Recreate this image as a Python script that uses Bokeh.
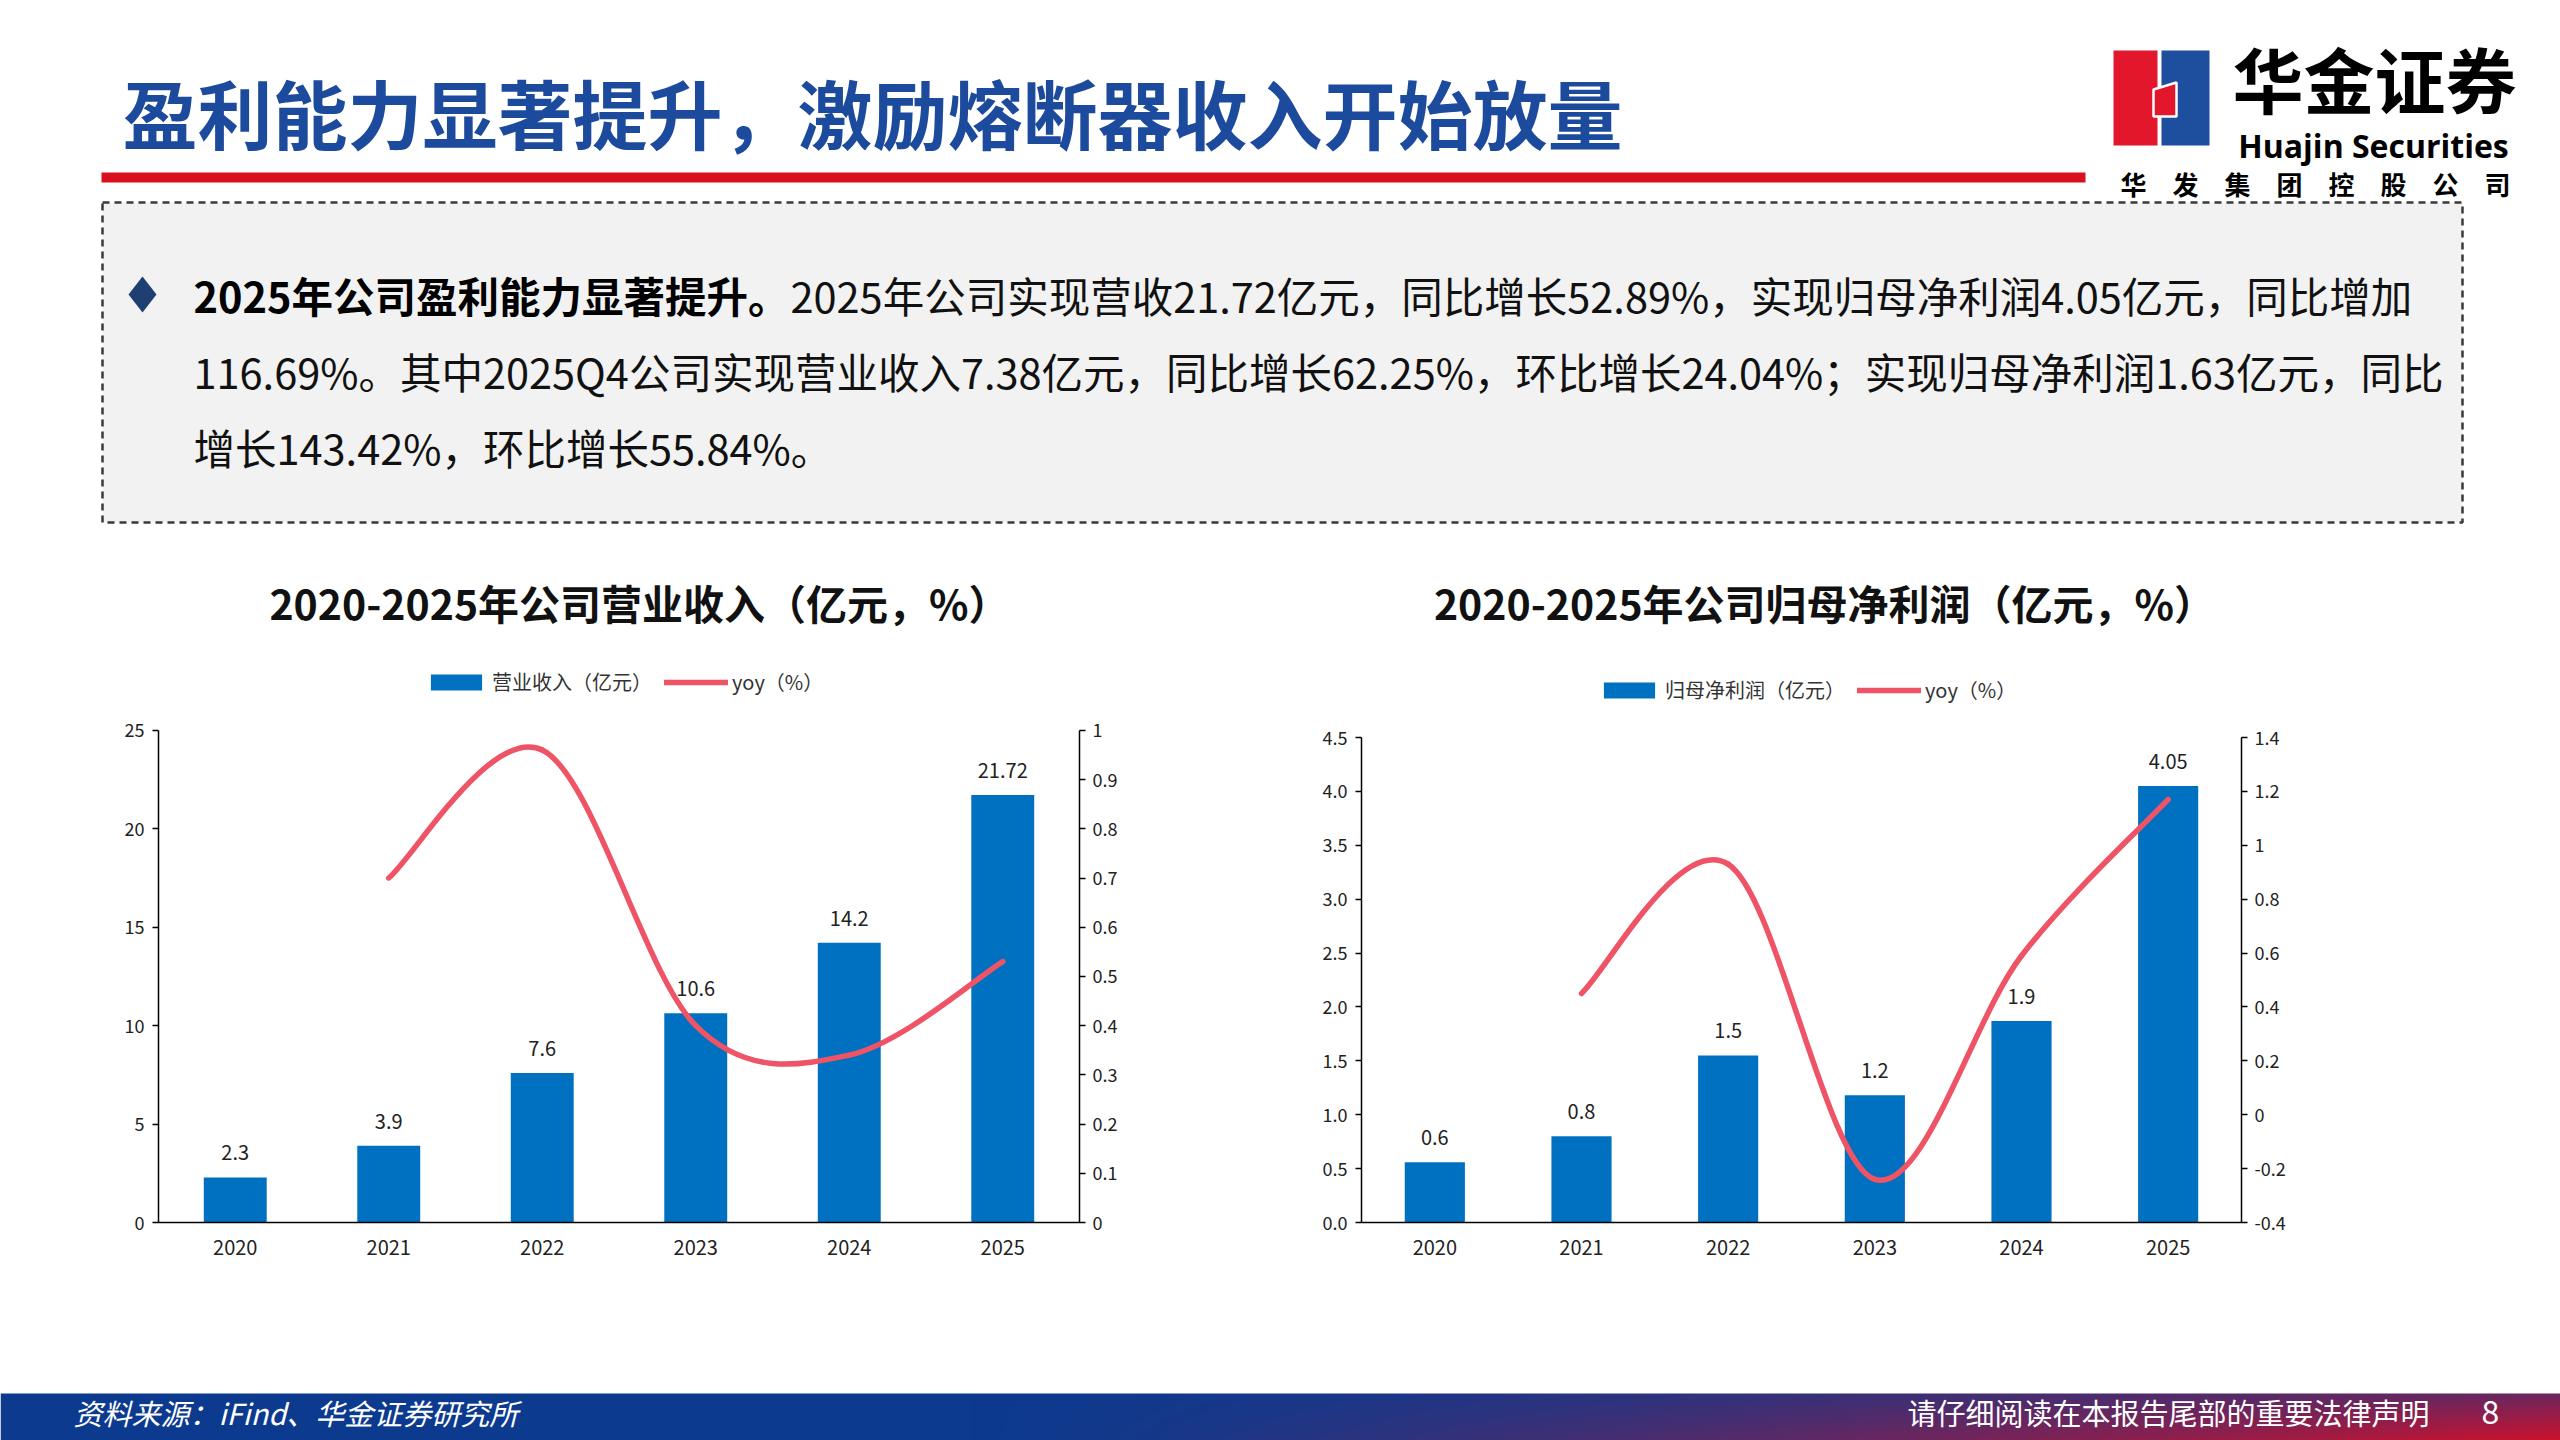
import numpy as np
from bokeh.plotting import figure
from bokeh.models import (Range1d, LinearAxis, FixedTicker, NumeralTickFormatter,
                          Legend, LegendItem, ColumnDataSource, LabelSet)
from bokeh.layouts import column, row
from bokeh.embed import file_html
from bokeh.resources import INLINE
from bokeh.core.properties import value

CJK = "Noto Sans CJK SC"

# ---------------- data ----------------
years = ["2020", "2021", "2022", "2023", "2024", "2025"]
revenue = [2.29, 3.90, 7.59, 10.63, 14.21, 21.72]
revenue_labels = ["2.3", "3.9", "7.6", "10.6", "14.2", "21.72"]
revenue_yoy = [None, 0.70, 0.96, 0.40, 0.34, 0.53]
profit = [0.56, 0.80, 1.55, 1.18, 1.87, 4.05]
profit_labels = ["0.6", "0.8", "1.5", "1.2", "1.9", "4.05"]
profit_yoy = [None, 0.45, 0.93, -0.24, 0.59, 1.17]

rev_left_ticks = [0, 5, 10, 15, 20, 25]
rev_right_ticks = [0, 0.1, 0.2, 0.3, 0.4, 0.5, 0.6, 0.7, 0.8, 0.9, 1.0]
prof_left_ticks = [0, 0.5, 1.0, 1.5, 2.0, 2.5, 3.0, 3.5, 4.0, 4.5]
prof_right_ticks = [-0.4, -0.2, 0, 0.2, 0.4, 0.6, 0.8, 1.0, 1.2, 1.4]

TITLE = "盈利能力显著提升，激励熔断器收入开始放量"
BULLET_BOLD = "2025年公司盈利能力显著提升。"
BULLET_LINE1 = "2025年公司实现营收21.72亿元，同比增长52.89%，实现归母净利润4.05亿元，同比增加"
BULLET_LINE2 = "116.69%。其中2025Q4公司实现营业收入7.38亿元，同比增长62.25%，环比增长24.04%；实现归母净利润1.63亿元，同比"
BULLET_LINE3 = "增长143.42%，环比增长55.84%。"
CHART1_TITLE = "2020-2025年公司营业收入（亿元，%）"
CHART2_TITLE = "2020-2025年公司归母净利润（亿元，%）"
LEG1 = "营业收入（亿元）"
LEG2 = "归母净利润（亿元）"
LEG_YOY = "yoy（%）"
LOGO_CN = "华金证券"
LOGO_EN = "Huajin Securities"
LOGO_SUB = "华　发　集　团　控　股　公　司"
SOURCE = "资料来源：iFind、华金证券研究所"
DISCLAIMER = "请仔细阅读在本报告尾部的重要法律声明"
PAGE = "8"

BAR_COLOR = "#0070c0"
LINE_COLOR = "#ef5366"
TITLE_BLUE = "#1c4a9c"
RED = "#d9101e"

W = 2560
HEAD_H = 650
CHART_H = 730
FOOT_H = 60
BAND_H = 47

# ---------------- header ----------------
head = figure(width=W, height=HEAD_H, x_range=Range1d(0, W), y_range=Range1d(HEAD_H, 0),
              x_axis_type=None, y_axis_type=None, output_backend="svg",
              toolbar_location=None, min_border=0, outline_line_color=None)
head.background_fill_color = "white"
head.border_fill_color = "white"

head.text(x=[122], y=[111], text=[TITLE], text_font=value(CJK), text_font_size="75px",
          text_font_style="bold", text_color=TITLE_BLUE, text_baseline="middle", text_align="left")
head.quad(left=[101], right=[2085], top=[172], bottom=[182], fill_color=RED, line_color=None)

# logo
head.quad(left=[2113], right=[2157], top=[50], bottom=[145], fill_color="#e3172b", line_color=None)
head.quad(left=[2161], right=[2209], top=[50], bottom=[145], fill_color="#1d4f9e", line_color=None)
head.patch(x=[2153, 2176, 2176, 2153], y=[89, 82, 116, 116], fill_color="#e3172b",
           line_color="white", line_width=2.5)
head.text(x=[2374], y=[76], text=[LOGO_CN], text_font=value(CJK), text_font_size="71px",
          text_font_style="bold", text_color="black", text_baseline="middle", text_align="center")
head.text(x=[2373], y=[145], text=[LOGO_EN], text_font=value("Open Sans"), text_font_size="32px",
          text_font_style="bold", text_color="black", text_baseline="alphabetic", text_align="center")
head.text(x=[2315], y=[183], text=[LOGO_SUB], text_font=value(CJK), text_font_size="26px",
          text_font_style="bold", text_color="black", text_baseline="middle", text_align="center")

# text box
head.quad(left=[102], right=[2462], top=[202], bottom=[522], fill_color="#f2f2f2",
          line_color="#3a3a3a", line_dash="7 5", line_width=2.5)
BX, BY, BHW, BHH = 142, 294, 14, 18
head.patch(x=[BX, BX + BHW, BX, BX - BHW], y=[BY - BHH, BY, BY + BHH, BY],
           fill_color="#1f3f73", line_color=None)
head.text(x=[193], y=[294], text=[BULLET_BOLD], text_font=value(CJK), text_font_size="41.5px",
          text_font_style="bold", text_color="black", text_baseline="middle", text_align="left")
head.text(x=[790, 193, 193], y=[294, 370, 446], text=[BULLET_LINE1, BULLET_LINE2, BULLET_LINE3],
          text_font=value(CJK), text_font_size="41.5px", text_color="#111111",
          text_baseline="middle", text_align="left")

# chart titles
head.text(x=[639, 1824], y=[601, 601], text=[CHART1_TITLE, CHART2_TITLE], text_font=value(CJK),
          text_font_size="41px", text_font_style="bold", text_color="#111111",
          text_baseline="middle", text_align="center")


# ---------------- charts ----------------
def bezier_source(vals):
    pts = [(i, v) for i, v in enumerate(vals) if v is not None]
    xs = [p[0] for p in pts]
    ys = [p[1] for p in pts]
    n = len(pts)
    d = dict(x0=[], y0=[], x1=[], y1=[], cx0=[], cy0=[], cx1=[], cy1=[])
    for i in range(n - 1):
        a = max(i - 1, 0)
        b = min(i + 2, n - 1)
        d["x0"].append(xs[i]); d["y0"].append(ys[i])
        d["x1"].append(xs[i + 1]); d["y1"].append(ys[i + 1])
        d["cx0"].append(xs[i] + (xs[i + 1] - xs[a]) / 6.0)
        d["cy0"].append(ys[i] + (ys[i + 1] - ys[a]) / 6.0)
        d["cx1"].append(xs[i + 1] - (xs[b] - xs[i]) / 6.0)
        d["cy1"].append(ys[i + 1] - (ys[b] - ys[i]) / 6.0)
    return ColumnDataSource(d)


def style_axis(ax, tick_out, standoff):
    ax.axis_line_color = "black"
    ax.axis_line_width = 1.5
    ax.major_tick_line_color = "black" if tick_out else None
    ax.major_tick_line_width = 1.5
    ax.major_tick_out = tick_out
    ax.major_tick_in = 0
    ax.minor_tick_line_color = None
    ax.major_label_text_font = CJK
    ax.major_label_text_font_size = "18px"
    ax.major_label_text_color = "#222222"
    ax.major_label_standoff = standoff


def make_chart(vals, labels, yoy, left_ticks, left_fmt, right_ticks, right_fmt, bar_name,
               borders, axis_px, legend_loc):
    bl, br, bt, bb = borders
    frame_h = CHART_H - bt - bb
    k = frame_h / axis_px  # frame extends above the axis top to host the legend
    y_end = left_ticks[0] + (left_ticks[-1] - left_ticks[0]) * k
    y2_end = right_ticks[0] + (right_ticks[-1] - right_ticks[0]) * k
    p = figure(width=1280, height=CHART_H, x_range=Range1d(-0.5, len(years) - 0.5),
               y_range=Range1d(left_ticks[0], y_end), output_backend="svg",
               toolbar_location=None, min_border_left=bl, min_border_right=br,
               min_border_top=bt, min_border_bottom=bb, outline_line_color=None)
    p.extra_y_ranges = {"yoy": Range1d(right_ticks[0], y2_end)}
    p.grid.visible = False
    p.background_fill_color = "white"
    p.border_fill_color = "white"

    xpos = list(range(len(years)))
    src = ColumnDataSource(dict(x=xpos, top=vals, label=labels))
    bars = p.vbar(x="x", top="top", width=0.41, source=src, fill_color=BAR_COLOR, line_color=None)
    p.add_layout(LabelSet(x="x", y="top", text="label", source=src, text_align="center",
                          text_baseline="alphabetic", y_offset=17, text_font=value(CJK),
                          text_font_size="20px", text_color="#222222"))

    bez = p.bezier(x0="x0", y0="y0", x1="x1", y1="y1", cx0="cx0", cy0="cy0", cx1="cx1",
                   cy1="cy1", source=bezier_source(yoy), line_color=LINE_COLOR, line_width=5.5,
                   line_cap="round", y_range_name="yoy")

    xax = p.xaxis[0]
    xax.ticker = FixedTicker(ticks=xpos)
    xax.major_label_overrides = {i: y for i, y in enumerate(years)}
    style_axis(xax, 0, 17)
    xax.major_label_text_font_size = "20px"

    yax = p.yaxis[0]
    yax.ticker = FixedTicker(ticks=left_ticks)
    yax.formatter = NumeralTickFormatter(format=left_fmt)
    yax.bounds = (left_ticks[0], left_ticks[-1])
    style_axis(yax, 6, 8)

    rax = LinearAxis(y_range_name="yoy", ticker=FixedTicker(ticks=right_ticks),
                     formatter=NumeralTickFormatter(format=right_fmt),
                     bounds=(right_ticks[0], right_ticks[-1]))
    style_axis(rax, 6, 7)
    p.add_layout(rax, "right")

    legend = Legend(items=[LegendItem(label=bar_name, renderers=[bars]),
                           LegendItem(label=LEG_YOY, renderers=[bez])],
                    location=legend_loc, orientation="horizontal", glyph_width=64,
                    glyph_height=20, label_standoff=4, spacing=12, padding=0, margin=0,
                    border_line_color=None, background_fill_alpha=0,
                    label_text_font=CJK, label_text_font_size="20px", label_height=22,
                    label_text_color="#333333")
    p.add_layout(legend)
    return p


left = make_chart(revenue, revenue_labels, revenue_yoy, rev_left_ticks, "0", rev_right_ticks,
                  "0.[0]", LEG1, (158, 201, 0, 157), 493, (266, 526))
right = make_chart(profit, profit_labels, profit_yoy, prof_left_ticks, "0.0", prof_right_ticks,
                   "0.[0]", LEG2, (81, 319, 0, 158), 485, (236, 518))

# ---------------- footer ----------------
foot = figure(width=W, height=FOOT_H, x_range=Range1d(0, W), y_range=Range1d(0, FOOT_H),
              x_axis_type=None, y_axis_type=None, output_backend="svg",
              toolbar_location=None, min_border=0, outline_line_color=None)
foot.background_fill_color = "white"
foot.border_fill_color = "white"
GW, GH = 640, BAND_H
gx = np.linspace(0, 1, GW)[None, :]
gy = np.linspace(0, 1, GH)[:, None]  # row 0 = bottom
t = np.clip((gx - 0.38) / 0.62, 0, 1) ** 1.3 * (1.0 - 0.5 * gy)
blue = np.array([12, 58, 143], dtype=float)
red = np.array([205, 18, 45], dtype=float)
img = np.empty((GH, GW), dtype=np.uint32)
view = img.view(dtype=np.uint8).reshape((GH, GW, 4))
for c in range(3):
    view[:, :, c] = (blue[c] * (1 - t) + red[c] * t).astype(np.uint8)
view[:, :, 3] = 255
foot.image_rgba(image=[img], x=0, y=0, dw=W, dh=BAND_H)
TY = FOOT_H - 31
foot.text(x=[73], y=[TY], text=[SOURCE], text_font=value(CJK), text_font_size="29px",
          text_font_style="italic", text_color="white", text_baseline="middle", text_align="left")
foot.text(x=[2429], y=[TY], text=[DISCLAIMER], text_font=value(CJK),
          text_font_size="29px", text_color="white", text_baseline="middle", text_align="right")
foot.text(x=[2490], y=[TY], text=[PAGE], text_font=value(CJK),
          text_font_size="32px", text_color="white", text_baseline="middle", text_align="center")

layout = column(head, row(left, right, spacing=0), foot, spacing=0)
open("out.html", "w").write(file_html(layout, INLINE))
